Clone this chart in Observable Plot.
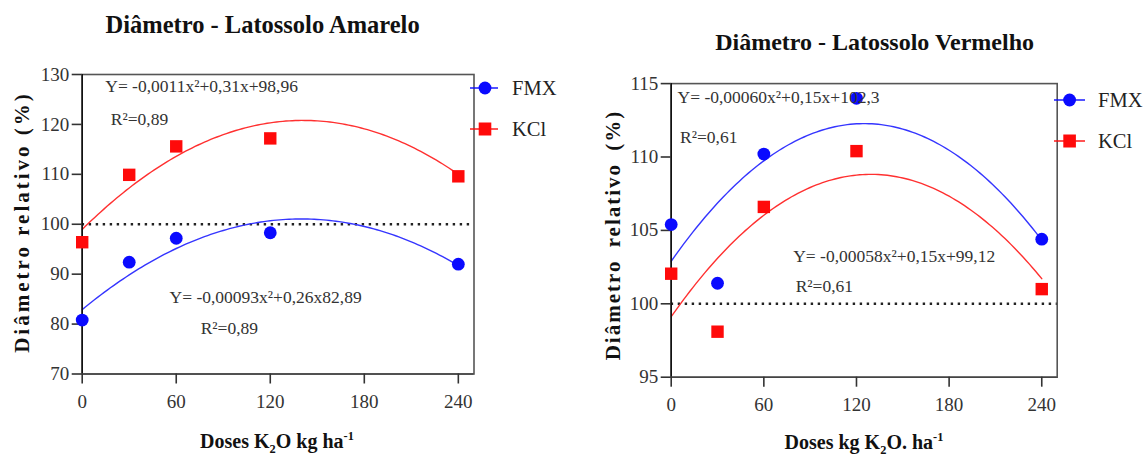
<!DOCTYPE html>
<html>
<head>
<meta charset="utf-8">
<script src="https://cdn.jsdelivr.net/npm/d3@7"></script>
<script src="https://cdn.jsdelivr.net/npm/@observablehq/plot@0.6"></script>
<style>
  html, body { margin: 0; padding: 0; background: #fff; }
  #wrap { position: relative; width: 1146px; height: 456px; overflow: hidden; font-family: "Liberation Serif", "LiberationSerif", "Tinos", "Times New Roman", Times, "DejaVu Serif", serif; color: #222; }
  #row { display: flex; position: absolute; left: 0; top: 0; }
  .lbl { position: absolute; white-space: nowrap; line-height: 1; transform: translate(-50%, -50%); }
  .title { font-weight: bold; color: #111; }
  .ylab { font-weight: bold; font-size: 21px; letter-spacing: 3px; color: #111; transform: translate(-50%, -50%) rotate(-90deg); }
  .xlab { font-weight: bold; font-size: 20px; color: #111; line-height: 1.35; }
  .xlab sub, .xlab sup { font-size: 0.62em; line-height: 0; }
  #legend { position: absolute; left: 0; top: 0; pointer-events: none; }
</style>
</head>
<body>
<div id="wrap">
  <div id="row"></div>
  <div class="lbl title" style="left:262.6px; top:25px; font-size:24.5px;">Diâmetro - Latossolo Amarelo</div>
  <div class="lbl title" style="left:874.6px; top:41.7px; font-size:24px;">Diâmetro - Latossolo Vermelho</div>
  <div class="lbl ylab" style="left:22px; top:222px;">Diâmetro relativo (%)</div>
  <div class="lbl ylab" style="left:613px; top:235px; letter-spacing:2px; word-spacing:5px;">Diâmetro relativo (%)</div>
  <div class="lbl xlab" style="left:277px; top:441px;">Doses K<sub>2</sub>O kg ha<sup>-1</sup></div>
  <div class="lbl xlab" style="left:864px; top:442px;">Doses kg K<sub>2</sub>O. ha<sup>-1</sup></div>
  <svg id="legend" width="1146" height="456"></svg>
</div>
<script>
// ---------------- data ----------------
const doses = [0, 30, 60, 120, 240];
const xTicks = [0, 60, 120, 180, 240];

const amareloFMX = [80.8, 92.4, 97.2, 98.3, 92.0];
const amareloKCl = [96.4, 109.9, 115.6, 117.2, 109.6];
const vermelhoFMX = [105.4, 101.4, 110.2, 114.0, 104.4];
const vermelhoKCl = [102.05, 98.1, 106.6, 110.4, 101.0];

// quadratic fit coefficients [a, b, c] : y = a x² + b x + c
const amareloFMXcoef = [-0.00093, 0.26, 82.89];
const amareloKClcoef = [-0.0011, 0.31, 98.96];
const vermelhoFMXcoef = [-0.00060, 0.15, 102.9];
const vermelhoKClcoef = [-0.00058, 0.15, 99.12];

const amareloYTicks = [70, 80, 90, 100, 110, 120, 130];
const vermelhoYTicks = [95, 100, 105, 110, 115];

const amareloEqText = ["Y= -0,0011x²+0,31x+98,96", "R²=0,89", "Y= -0,00093x²+0,26x82,89", "R²=0,89"];
const amareloEqX = [14.7, 18.2, 55.7, 75.6];
const amareloEqY = [127.7, 121.0, 85.4, 79.2];
const vermelhoEqText = ["Y= -0,00060x²+0,15x+102,3", "R²=0,61", "Y= -0,00058x²+0,15x+99,12", "R²=0,61"];
const vermelhoEqX = [4.1, 5.7, 79, 80.6];
const vermelhoEqY = [114.05, 111.33, 103.2, 101.18];

const seriesNames = ["FMX", "KCl"];
const reference = 100;

// ---------------- helpers ----------------
const FONT = "'Liberation Serif', 'LiberationSerif', 'Tinos', 'Times New Roman', Times, 'DejaVu Serif', serif";
const BLUE = "#0a0aff", RED = "#ff0a0a", BLUE_L = "#3535ff", RED_L = "#ff3030";
const curve = (coef) => d3.range(0, 240.01, 2).map(x => ({x, y: coef[0]*x*x + coef[1]*x + coef[2]}));
const pts = (vals) => doses.map((d, i) => ({x: d, y: vals[i]}));
const eqs = (t, xs, ys) => t.map((s, i) => ({text: s, x: xs[i], y: ys[i]}));

function panel({yDomain, yTicks, fmx, kcl, fmxCoef, kclCoef, labels, margins}) {
  return Plot.plot({
    width: 573,
    height: 456,
    marginLeft: margins[0], marginRight: margins[1], marginTop: margins[2], marginBottom: margins[3],
    style: {fontFamily: FONT, fontSize: "19px", color: "#333", background: "transparent", overflow: "visible"},
    x: {domain: [0, 250]},
    y: {domain: yDomain},
    marks: [
      Plot.frame({stroke: "#555", strokeWidth: 1.6}),
      Plot.ruleY([reference], {stroke: "#222", strokeWidth: 2.6, strokeDasharray: "2.4,4.6"}),
      Plot.line(curve(kclCoef), {x: "x", y: "y", stroke: RED_L, strokeWidth: 1.4}),
      Plot.line(curve(fmxCoef), {x: "x", y: "y", stroke: BLUE_L, strokeWidth: 1.4}),
      Plot.ruleX([0], {stroke: "#111", strokeWidth: 1.6}),
      Plot.ruleY([yDomain[0]], {stroke: "#444", strokeWidth: 1.6}),
      Plot.axisX({ticks: xTicks, tickSize: 10, tickPadding: 10, label: null, stroke: "#333", strokeWidth: 1.6, fill: "#333"}),
      Plot.axisY({ticks: yTicks, tickSize: 10, tickPadding: 3, label: null, stroke: "#333", strokeWidth: 1.6, fill: "#333"}),
      Plot.dot(pts(kcl), {x: "x", y: "y", symbol: "square", r: 7, fill: RED, stroke: "none"}),
      Plot.dot(pts(fmx), {x: "x", y: "y", symbol: "circle", r: 6.4, fill: BLUE, stroke: "none"}),
      Plot.text(labels, {x: "x", y: "y", text: "text", textAnchor: "start", fontSize: 17.5, fill: "#333"})
    ]
  });
}

const left = panel({
  yDomain: [70, 130], yTicks: amareloYTicks,
  fmx: amareloFMX, kcl: amareloKCl, fmxCoef: amareloFMXcoef, kclCoef: amareloKClcoef,
  labels: eqs(amareloEqText, amareloEqX, amareloEqY),
  margins: [81.7, 99.5, 74, 82.5]
});
const right = panel({
  yDomain: [95, 115], yTicks: vermelhoYTicks,
  fmx: vermelhoFMX, kcl: vermelhoKCl, fmxCoef: vermelhoFMXcoef, kclCoef: vermelhoKClcoef,
  labels: eqs(vermelhoEqText, vermelhoEqX, vermelhoEqY),
  margins: [97.7, 89.3, 83.1, 79.3]
});
document.getElementById("row").append(left, right);

// ---------------- legends ----------------
const lg = d3.select("#legend");
const legendSpecs = [
  {x0: 470, x1: 498, xm: 485, xt: 512, ys: [88, 129]},
  {x0: 1054, x1: 1085, xm: 1069.6, xt: 1098, ys: [100, 141]}
];
legendSpecs.forEach(spec => {
  seriesNames.forEach((name, i) => {
    const y = spec.ys[i];
    const col = i === 0 ? BLUE : RED;
    lg.append("line").attr("x1", spec.x0).attr("x2", spec.x1).attr("y1", y).attr("y2", y)
      .attr("stroke", col).attr("stroke-width", 1.4);
    if (i === 0) lg.append("circle").attr("cx", spec.xm).attr("cy", y).attr("r", 6.4).attr("fill", col);
    else lg.append("rect").attr("x", spec.xm - 6.3).attr("y", y - 6.5).attr("width", 12.6).attr("height", 13).attr("fill", col);
    lg.append("text").attr("x", spec.xt).attr("y", y).attr("dy", "0.35em")
      .attr("font-family", FONT).attr("font-size", 20.5)
      .attr("fill", "#222").text(name);
  });
});
</script>
</body>
</html>
